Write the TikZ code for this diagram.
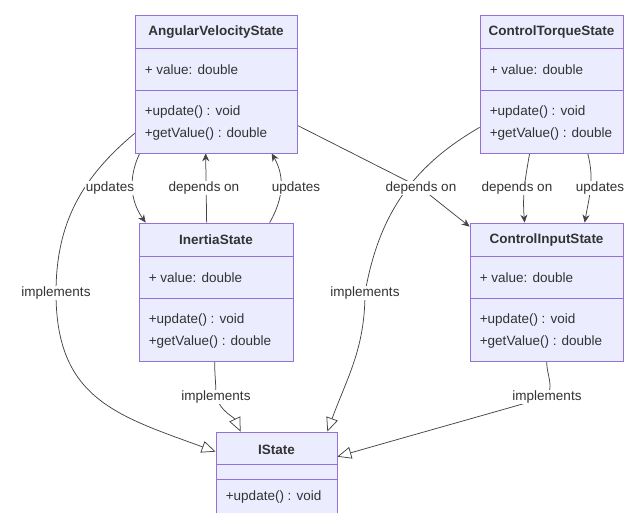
\documentclass[tikz,border=0pt]{standalone}
\usepackage{fontspec}
\setmainfont{Liberation Sans}
\usetikzlibrary{arrows.meta,backgrounds,positioning}

\definecolor{boxfill}{HTML}{ECECFF}
\definecolor{boxline}{HTML}{9370DB}
\definecolor{ink}{HTML}{333333}
\definecolor{edgeink}{HTML}{444444}

\tikzset{
  classbox/.style={draw=boxline, fill=boxfill, line width=0.7pt, inner sep=0pt},
  sepline/.style={draw=boxline, line width=0.7pt},
  title/.style={font=\fontsize{13.5}{16}\selectfont\bfseries, text=ink},
  member/.style={font=\fontsize{13.5}{16}\selectfont, text=ink, anchor=west, inner sep=0pt},
  lbl/.style={font=\fontsize{13.5}{16}\selectfont, text=ink, fill=white, inner sep=1pt},
  dep/.style={draw=edgeink, line width=0.75pt, -{Stealth[length=8pt,width=7pt]}},
  impl/.style={draw=edgeink, line width=0.75pt, -{Triangle[length=14pt,width=12pt,fill=white]}},
}

\begin{document}
\begin{tikzpicture}[x=1pt,y=-1pt]
\useasboundingbox (0,0) rectangle (633,513);

% the four state classes
\foreach \n/\cx/\cy/\w/\t in {avs/216/84/162/AngularVelocityState,
    cts/551.5/84/143/ControlTorqueState,
    is/216/292/154/InertiaState,
    cis/546.5/292/153/ControlInputState} {
  \node[classbox, minimum width=\w pt, minimum height=138pt] (\n) at (\cx,\cy) {};
  \draw[sepline] ([yshift=-34pt]\n.north west) -- ([yshift=-34pt]\n.north east);
  \draw[sepline] ([yshift=-76pt]\n.north west) -- ([yshift=-76pt]\n.north east);
  \node[title] (\n-t) at ([yshift=-17pt]\n.north) {\t};
  \node[member] (\n-a) at ([shift={(10pt,-55pt)}]\n.north west) {+ value: double};
  \node[member] (\n-m1) at ([shift={(10pt,-97pt)}]\n.north west) {+update() : void};
  \node[member] (\n-m2) at ([shift={(10pt,-119pt)}]\n.north west) {+getValue() : double};
}

% interface
\node[classbox, minimum width=121pt, minimum height=81pt] (istate) at (276.5,472.5) {};
\draw[sepline] ([yshift=-33pt]istate.north west) -- ([yshift=-33pt]istate.north east);
\draw[sepline] ([yshift=-48pt]istate.north west) -- ([yshift=-48pt]istate.north east);
\node[title] (istate-t) at ([yshift=-18pt]istate.north) {IState};
\node[member] (istate-m1) at ([shift={(10pt,-65pt)}]istate.north west) {+update() : void};

% edge labels
\node[lbl] (l-upd1) at (110,188) {updates};
\node[lbl] (l-dep1) at (204,188) {depends on};
\node[lbl] (l-upd2) at (296,188) {updates};
\node[lbl] (l-dep2) at (421,188) {depends on};
\node[lbl] (l-dep3) at (517,188) {depends on};
\node[lbl] (l-upd3) at (600,188) {updates};
\node[lbl] (l-impl1) at (56,293) {implements};
\node[lbl] (l-impl2) at (365,293) {implements};
\node[lbl] (l-impl3) at (216,397) {implements};
\node[lbl] (l-impl4) at (547,397) {implements};

\begin{scope}[on background layer]
\draw[dep] ([xshift=5pt]avs.south west) to[out=-115,in=125] ([xshift=7pt]is.north west);
\draw[dep] ([xshift=68pt]is.north west) -- ([xshift=71pt]avs.south west);
\draw[dep] ([xshift=131pt]is.north west) to[out=60,in=-60] ([xshift=137pt]avs.south west);
\draw[dep] ([yshift=28pt]avs.south east) -- (l-dep2.center) -- ([yshift=-4pt]cis.north west);
\draw[dep] ([xshift=50pt]cts.south west) to[out=-100,in=95] ([xshift=55pt]cis.north west);
\draw[dep] ([xshift=108pt]cts.south west) to[out=-75,in=80] ([xshift=115pt]cis.north west);
\draw[impl] ([yshift=20pt]avs.south west) to[out=-140,in=90] (l-impl1.center)
  to[out=-90,in=160,looseness=1.2] ([yshift=-20pt]istate.north west);
\draw[impl] ([yshift=26pt]cts.south west) to[out=-150,in=80] (l-impl2.center)
  to[out=-90,in=70] ([xshift=-10pt]istate.north east);
\draw[impl] ([xshift=76pt]is.south west) to[out=-90,in=90] (l-impl3.center)
  to[out=-70,in=115] ([xshift=25pt]istate.north west);
\draw[impl] ([xshift=77pt]cis.south west) to[out=-90,in=60] (l-impl4.center)
  to[out=-164,in=16] ([yshift=-25pt]istate.north east);
\end{scope}
\end{tikzpicture}
\end{document}
